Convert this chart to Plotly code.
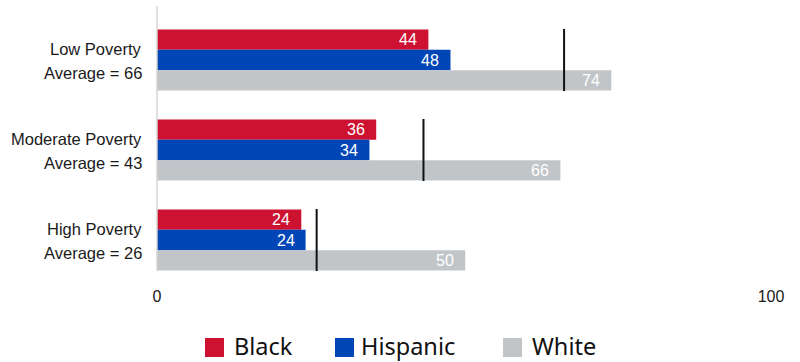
import plotly.graph_objects as go

categories = ["Low Poverty", "Moderate Poverty", "High Poverty"]
average_labels = [66, 43, 26]
average_marks = [66.3, 43.4, 26.0]
black = [44.2, 35.7, 23.5]
hispanic = [47.8, 34.6, 24.2]
white = [74.0, 65.7, 50.2]
black_lbl = ["44", "36", "24"]
hispanic_lbl = ["48", "34", "24"]
white_lbl = ["74", "66", "50"]
series_names = ["Black", "Hispanic", "White"]
colors = ["#CD1131", "#0046B7", "#C2C5C8"]

W, H = 800, 362
L, R, T, B = 157, 29, 15, 77
PW, PH = W - L - R, H - T - B


def px(x):
    return (x - L) / PW


def py(y):
    return (H - B - y) / PH


fig = go.Figure()
for name, vals, col in zip(series_names, [black, hispanic, white], colors):
    fig.add_trace(go.Bar(
        y=categories, x=vals, name=name, orientation="h",
        marker=dict(color=col, line=dict(width=0)),
        showlegend=False, hoverinfo="skip",
    ))

ann = []
offsets = [-0.226, 0.0, 0.226]
for si, (vals, lbls) in enumerate(zip([black, hispanic, white], [black_lbl, hispanic_lbl, white_lbl])):
    for ci, (v, t) in enumerate(zip(vals, lbls)):
        ann.append(dict(
            x=v, y=ci + offsets[si], xref="x", yref="y", text=t, showarrow=False,
            xanchor="right", yanchor="middle", xshift=-9,
            font=dict(family="Liberation Sans, Arial", size=16, color="white"),
        ))

# category labels
for ci, (c, a) in enumerate(zip(categories, average_labels)):
    ann.append(dict(x=px(L - 13), y=ci, xref="paper", yref="y", text=c, showarrow=False,
                    xanchor="right", yanchor="middle", yshift=11.5,
                    font=dict(family="Liberation Sans, Arial", size=16.5, color="#1a1a1a")))
    ann.append(dict(x=px(L - 13), y=ci, xref="paper", yref="y", text=f"Average = {a}", showarrow=False,
                    xanchor="right", yanchor="middle", yshift=-13,
                    font=dict(family="Liberation Sans, Arial", size=16.5, color="#1a1a1a")))

shapes = []
# axis line
shapes.append(dict(type="line", xref="paper", yref="paper", x0=0, x1=0,
                   y0=py(6), y1=py(271), line=dict(color="#D4D4D4", width=1.5)))
# average lines
for ci, a in enumerate(average_marks):
    shapes.append(dict(type="line", xref="x", yref="y", x0=a, x1=a,
                       y0=ci - 0.345, y1=ci + 0.345, line=dict(color="#111111", width=2)))

# manual legend
leg_x = [205, 335, 503]
txt_x = [232, 359, 530]
for name, col, lx, tx in zip(series_names, colors, leg_x, txt_x):
    shapes.append(dict(type="rect", xref="paper", yref="paper",
                       x0=px(lx), x1=px(lx + 19), y0=py(357), y1=py(338),
                       fillcolor=col, line=dict(width=0)))
    ann.append(dict(x=px(tx), y=py(345.5), xref="paper", yref="paper", text=name,
                    showarrow=False, xanchor="left", yanchor="middle",
                    font=dict(family="Noto Sans, Open Sans", size=23.5, color="#111111")))

fig.update_layout(
    width=W, height=H,
    margin=dict(l=L, r=R, t=T, b=B, pad=0),
    paper_bgcolor="white", plot_bgcolor="white",
    barmode="group", bargap=0.322, bargroupgap=0,
    showlegend=False,
    annotations=ann, shapes=shapes,
    xaxis=dict(range=[0, 100], tickvals=[0, 100], ticktext=["0", "100"],
               showgrid=False, zeroline=False, showline=False, ticks="",
               tickfont=dict(family="Liberation Sans, Arial", size=16, color="#1a1a1a"),
               fixedrange=True),
    yaxis=dict(autorange="reversed", showticklabels=False, showgrid=False,
               zeroline=False, showline=False, ticks="", fixedrange=True),
)

fig.write_html("out.html", config={"displayModeBar": False})
